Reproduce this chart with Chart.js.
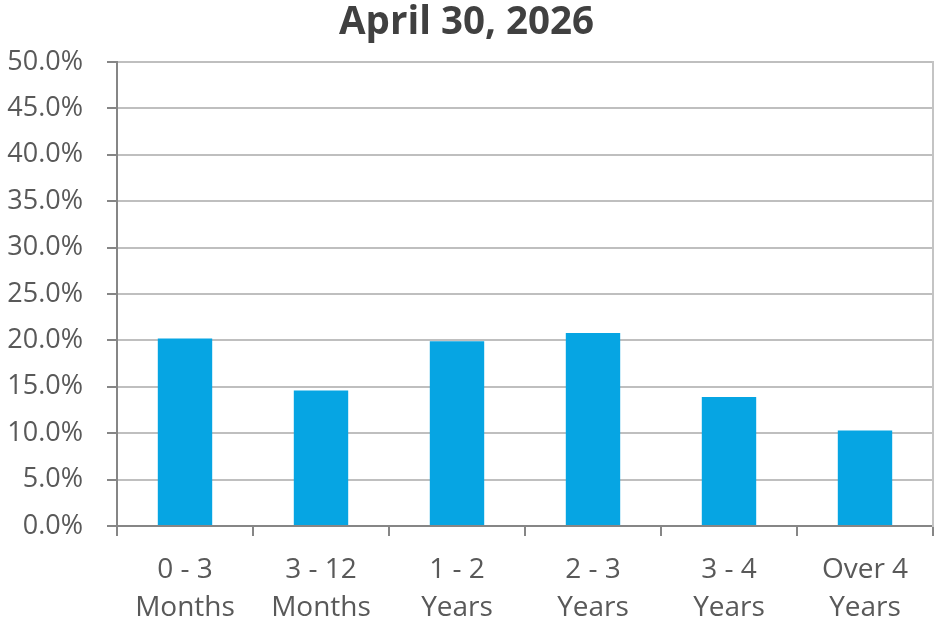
<!DOCTYPE html>
<html>
<head>
<meta charset="utf-8">
<script src="https://cdn.jsdelivr.net/npm/chart.js@4/dist/chart.umd.min.js"></script>
<style>
  html, body { margin: 0; padding: 0; background: #ffffff; }
  #wrap { width: 935px; height: 623px; }
</style>
</head>
<body>
<div id="wrap"><canvas id="c" width="935" height="623"></canvas></div>
<script>
const chartTitle = 'April 30, 2026';
const categories = [['0 - 3', 'Months'], ['3 - 12', 'Months'], ['1 - 2', 'Years'], ['2 - 3', 'Years'], ['3 - 4', 'Years'], ['Over 4', 'Years']];
const allocation = [20.2, 14.6, 19.9, 20.8, 13.9, 10.3];
const yTicks = [0, 5, 10, 15, 20, 25, 30, 35, 40, 45, 50];

const FONT = '"Open Sans", Lato, sans-serif';

new Chart(document.getElementById('c'), {
  type: 'bar',
  data: {
    labels: categories,
    datasets: [{
      data: allocation,
      backgroundColor: '#06A5E3',
      borderWidth: 0,
      barPercentage: 0.4,
      categoryPercentage: 1.0
    }]
  },
  options: {
    responsive: false,
    animation: false,
    devicePixelRatio: 1,
    layout: { padding: { left: 0, right: 2, top: 0, bottom: 0 } },
    plugins: {
      legend: { display: false },
      tooltip: { enabled: false },
      title: {
        display: true,
        text: chartTitle,
        color: '#404040',
        font: { family: FONT, size: 38.5, weight: 'bold', lineHeight: 1.2 },
        padding: { top: 0, bottom: 15.8 }
      }
    },
    scales: {
      x: {
        offset: true,
        grid: {
          offset: true,
          drawOnChartArea: false,
          drawTicks: true,
          tickLength: 10,
          tickColor: '#868686',
          lineWidth: 2
        },
        border: { display: true, color: '#868686', width: 2 },
        ticks: {
          color: '#595959',
          font: { family: FONT, size: 28, lineHeight: 1.357 },
          padding: 15,
          maxRotation: 0,
          autoSkip: false
        },
        afterFit: (s) => { s.height = 97; }
      },
      y: {
        min: yTicks[0],
        max: yTicks[yTicks.length - 1],
        afterBuildTicks: (s) => { s.ticks = yTicks.map(v => ({ value: v })); },
        grid: {
          color: '#BFBFBF',
          lineWidth: 2,
          drawTicks: true,
          tickLength: 10,
          tickColor: '#868686'
        },
        border: { display: true, color: '#868686', width: 2 },
        ticks: {
          color: '#595959',
          font: { family: FONT, size: 27 },
          padding: 24,
          callback: (v) => Number(v).toFixed(1) + '%'
        },
        afterFit: (s) => { s.width = 117; }
      },
      y2: {
        position: 'right',
        min: yTicks[0],
        max: yTicks[yTicks.length - 1],
        grid: { display: false, drawTicks: false },
        ticks: { display: false },
        border: { display: true, color: '#C4C4C4', width: 2 },
        afterFit: (s) => { s.width = 0; }
      }
    }
  }
});
</script>
</body>
</html>
